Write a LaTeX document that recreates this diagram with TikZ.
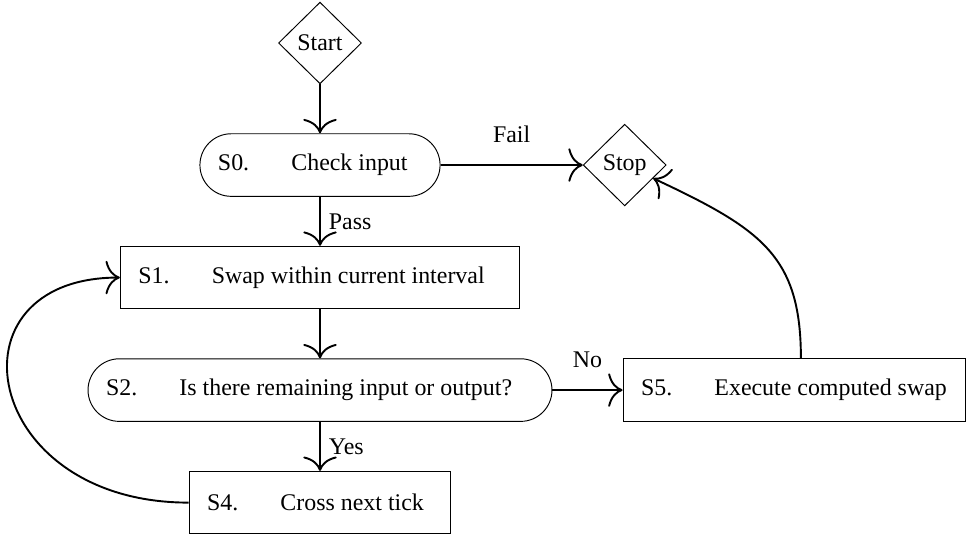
\documentclass[tikz,border=0pt]{standalone}
\usepackage{fontspec}
\setmainfont{Liberation Serif}
\usetikzlibrary{positioning,shapes.geometric,arrows.meta}

\begin{document}
\begin{tikzpicture}[node distance=0.72cm]
      \tikzstyle{decision} = [diamond, aspect=1, minimum width=1.22cm, minimum height=1.2cm, inner sep=1pt, draw=black]
      \tikzstyle{process} = [rectangle, minimum height=0.92cm, inner xsep=0.265cm, align=flush left, draw=black]
      \tikzstyle{test} = [process, rounded corners=0.46cm]
      \tikzstyle{arrow} = [thick,->,>={Computer Modern Rightarrow[width=14pt,length=6pt]}]

      \node (start) [decision] {Start};
      \node (check) [test, below=of start, text width=3cm] {S0.\hspace{0.62cm}Check input};
      \node (stop) [decision, right=2.09cm of check] {Stop};
      \node (swap) [process, below=of check, text width=5.34cm] {S1.\hspace{0.62cm}Swap within current interval};
      \node (remain) [test, below=of swap, text width=6.29cm] {S2.\hspace{0.62cm}Is there remaining input or output?};
      \node (exec) [process, right=1.03cm of remain, text width=4.5cm] {S5.\hspace{0.62cm}Execute computed swap};
      \node (cross) [process, below=of remain, text width=3.32cm] {S4.\hspace{0.62cm}Cross next tick};

      \useasboundingbox (start.center) ++(-4.704,0.632) rectangle ++(14.2,-7.806);

      \draw [arrow] (start) -- (check);
      \draw [arrow] (check) -- node[above=5.5pt] {Fail} (stop);
      \draw [arrow] (check) -- node[right] {Pass} (swap);
      \draw [arrow] (swap) -- (remain);
      \draw [arrow] (remain) -- node[above=5.5pt] {No} (exec);
      \draw [arrow] (remain) -- node[right] {Yes} (cross);
      \draw [arrow] (cross.west) .. controls +(-3.05,0) and +(-2.6,0) .. (swap.west);
      \draw [arrow] ([xshift=0.1cm]exec.north) .. controls +(0,1.5) and +(1.6,-0.75) .. (stop.-25);
    \end{tikzpicture}
\end{document}
